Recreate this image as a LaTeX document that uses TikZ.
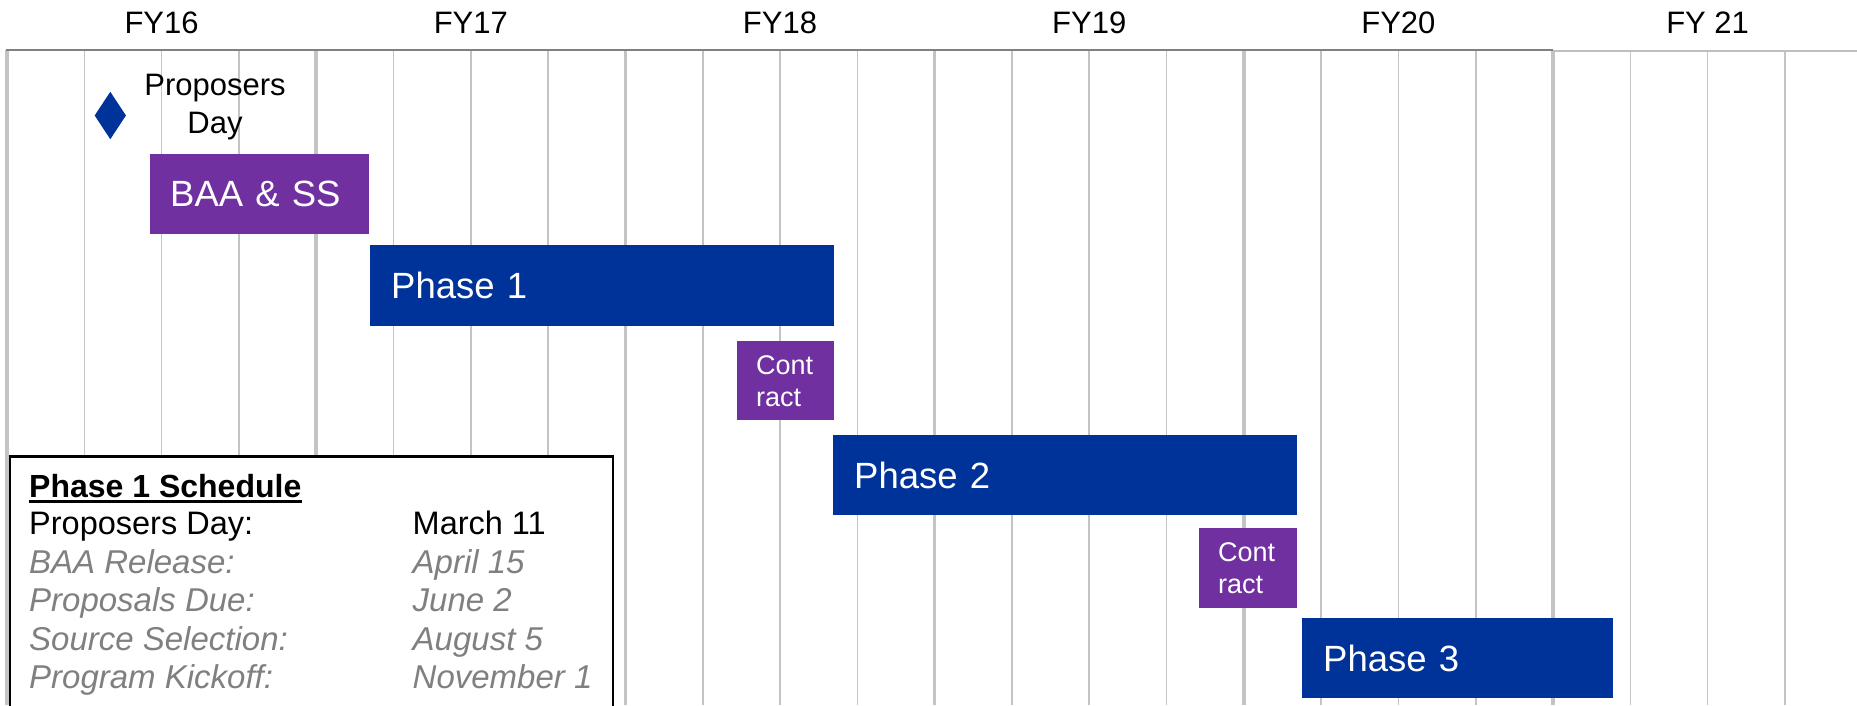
\documentclass[tikz,border=0pt]{standalone}
\usepackage{fontspec}
\setmainfont{Liberation Sans}
\usetikzlibrary{shapes.geometric}
\definecolor{barblue}{HTML}{003399}
\definecolor{barpurple}{HTML}{7030A0}
\definecolor{gridgray}{HTML}{C4C4C4}
\definecolor{topgray}{HTML}{808080}
\definecolor{lighttop}{HTML}{BFBFBF}
\definecolor{softtext}{HTML}{808080}
\begin{document}
\begin{tikzpicture}[x=1pt,y=-1pt,
  gridthin/.style={draw=gridgray, line width=1.6},
  gridthick/.style={draw=gridgray, line width=3.6},
  yearlabel/.style={anchor=base, inner sep=0, font=\fontsize{31}{37}\selectfont},
  barbox/.style={rectangle, anchor=north west, inner ysep=0, align=left, text=white},
  phasebar/.style={barbox, fill=barblue, inner xsep=21, font=\fontsize{36.5}{44}\selectfont},
  baabar/.style={barbox, fill=barpurple, inner xsep=20, font=\fontsize{36.5}{44}\selectfont},
  contractbar/.style={barbox, fill=barpurple, inner xsep=19, font=\fontsize{27}{32}\selectfont},
  schedrow/.style={anchor=base west, inner sep=0, font=\fontsize{32.5}{38}\selectfont},
  schedsoft/.style={schedrow, text=softtext, font=\fontsize{33}{38}\selectfont\itshape},
  schedhead/.style={schedrow, font=\fontsize{32}{38}\selectfont\bfseries}
]
\useasboundingbox (0,0) rectangle (1857,705);
% grid
\foreach \k in {1,2,3,5,6,7,9,10,11,13,14,15,17,18,19,21,22,23}
  \draw[gridthin] ({7+77.3*\k},50) -- ({7+77.3*\k},705);
\foreach \k in {0,4,8,12,16,20}
  \draw[gridthick] ({7+77.3*\k},50) -- ({7+77.3*\k},705);
% top rule
\draw[topgray, line width=2.5] (6,50) -- (1553,50);
\draw[lighttop, line width=2] (1553,51) -- (1857,51);
% year labels
\node[yearlabel] (fy16) at (161.6,33) {FY16};
\node[yearlabel] (fy17) at (470.8,33) {FY17};
\node[yearlabel] (fy18) at (780,33) {FY18};
\node[yearlabel] (fy19) at (1089.2,33) {FY19};
\node[yearlabel] (fy20) at (1398.4,33) {FY20};
\node[yearlabel] (fy21) at (1707.6,33) {FY 21};
% milestone
\node[diamond, fill=barblue, inner sep=0, minimum width=31.4, minimum height=47.6] (pdmark) at (110.3,115.5) {};
\node[align=center, inner sep=0, font=\fontsize{31}{38.4}\selectfont] (pdlabel) at (215,107) {Proposers\\Day};
% bars
\node[baabar, text width=179pt, minimum height=80] (baa) at (150,154) {BAA \& SS};
\node[phasebar, text width=422pt, minimum height=81] (ph1) at (370,245) {Phase 1};
\node[contractbar, text width=59pt, minimum height=79] (ct1) at (737,341) {Cont\\ract};
\node[phasebar, text width=422pt, minimum height=79.5] (ph2) at (833,435) {Phase 2};
\node[contractbar, text width=60pt, minimum height=80] (ct2) at (1199,528) {Cont\\ract};
\node[phasebar, text width=269pt, minimum height=80] (ph3) at (1302,618) {Phase 3};
% schedule box
\node[draw=black, fill=white, line width=2.5, anchor=north west, inner sep=0, minimum width=603, minimum height=280] (schedbox) at (8.5,455) {};
\node[schedhead] (sched) at (29,497) {Phase 1 Schedule};
\draw[line width=2.5] ([yshift=-4.5]sched.base west) -- ([yshift=-4.5]sched.base east);
\node[schedrow] (r1a) at (29,534.5) {Proposers Day:};
\node[schedrow] (r1b) at (412.5,534.5) {March 11};
\node[schedsoft] (r2a) at (29,573) {BAA Release:};
\node[schedsoft] (r2b) at (412.5,573) {April 15};
\node[schedsoft] (r3a) at (29,611.5) {Proposals Due:};
\node[schedsoft] (r3b) at (412.5,611.5) {June 2};
\node[schedsoft] (r4a) at (29,650) {Source Selection:};
\node[schedsoft] (r4b) at (412.5,650) {August 5};
\node[schedsoft] (r5a) at (29,688.5) {Program Kickoff:};
\node[schedsoft] (r5b) at (412.5,688.5) {November 1};
\end{tikzpicture}
\end{document}
